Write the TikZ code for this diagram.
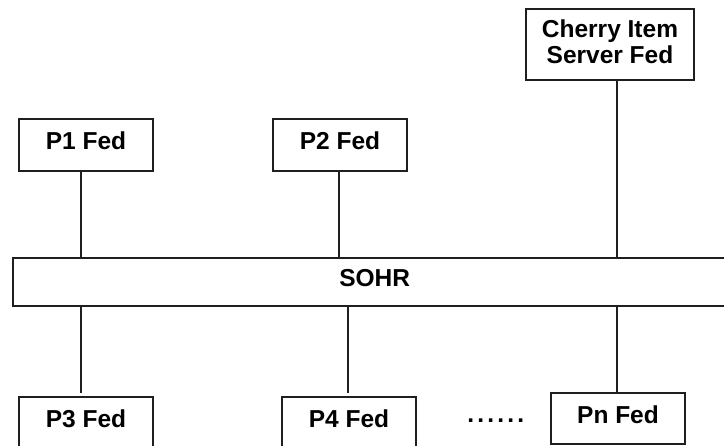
\documentclass[tikz,border=0pt]{standalone}
\usepackage{fontspec}
\setmainfont{Liberation Sans}
\begin{document}
\begin{tikzpicture}[x=1pt,y=-1pt,
  box/.style={draw=black!88, line width=1.7pt, inner sep=0pt,
    font=\fontsize{24.5}{26}\selectfont\bfseries},
  fed/.style={box, minimum width=134pt, minimum height=52pt,
    text height=17.5pt, text depth=8pt},
  link/.style={draw=black!88, line width=1.7pt}]
\useasboundingbox (0,0) rectangle (724,446);

% federates above the bus
\node[fed] (p1) at (86,145) {P1 Fed};
\node[fed] (p2) at (340,145) {P2 Fed};
\node[box, minimum width=168pt, minimum height=71pt, align=center,
  text depth=6pt] (cherry) at (610,44.5) {Cherry Item\\Server Fed};

% the runtime bus
\node[box, minimum width=723.4pt, minimum height=48.3pt,
  text height=17.5pt, text depth=8pt] (sohr) at (374.7,281.9) {SOHR};

% federates below the bus
\node[fed] (p3) at (86,423) {P3 Fed};
\node[fed] (p4) at (349,423) {P4 Fed};
\node[fed, minimum height=51pt] (pn) at (618,418.5) {Pn Fed};
\node[inner sep=0pt, font=\fontsize{24.5}{26}\selectfont\bfseries] (dots) at (495.8,421)
  {.\kern3.2pt.\kern3.2pt.\kern3.2pt.\kern3.2pt.\kern3.2pt.};

% connections to the bus
\draw[link] ([xshift=-5.3]p1.south) -- ([xshift=-5.3]p1.south |- sohr.north);
\draw[link] ([xshift=-1]p2.south) -- ([xshift=-1]p2.south |- sohr.north);
\draw[link] ([xshift=7]cherry.south) -- ([xshift=7]cherry.south |- sohr.north);
\draw[link] ([xshift=-5.3]p3.north |- sohr.south) -- ([xshift=-5.3,yshift=3]p3.north);
\draw[link] ([xshift=-1]p4.north |- sohr.south) -- ([xshift=-1,yshift=3]p4.north);
\draw[link] ([xshift=-1]pn.north |- sohr.south) -- ([xshift=-1]pn.north);
\end{tikzpicture}
\end{document}
